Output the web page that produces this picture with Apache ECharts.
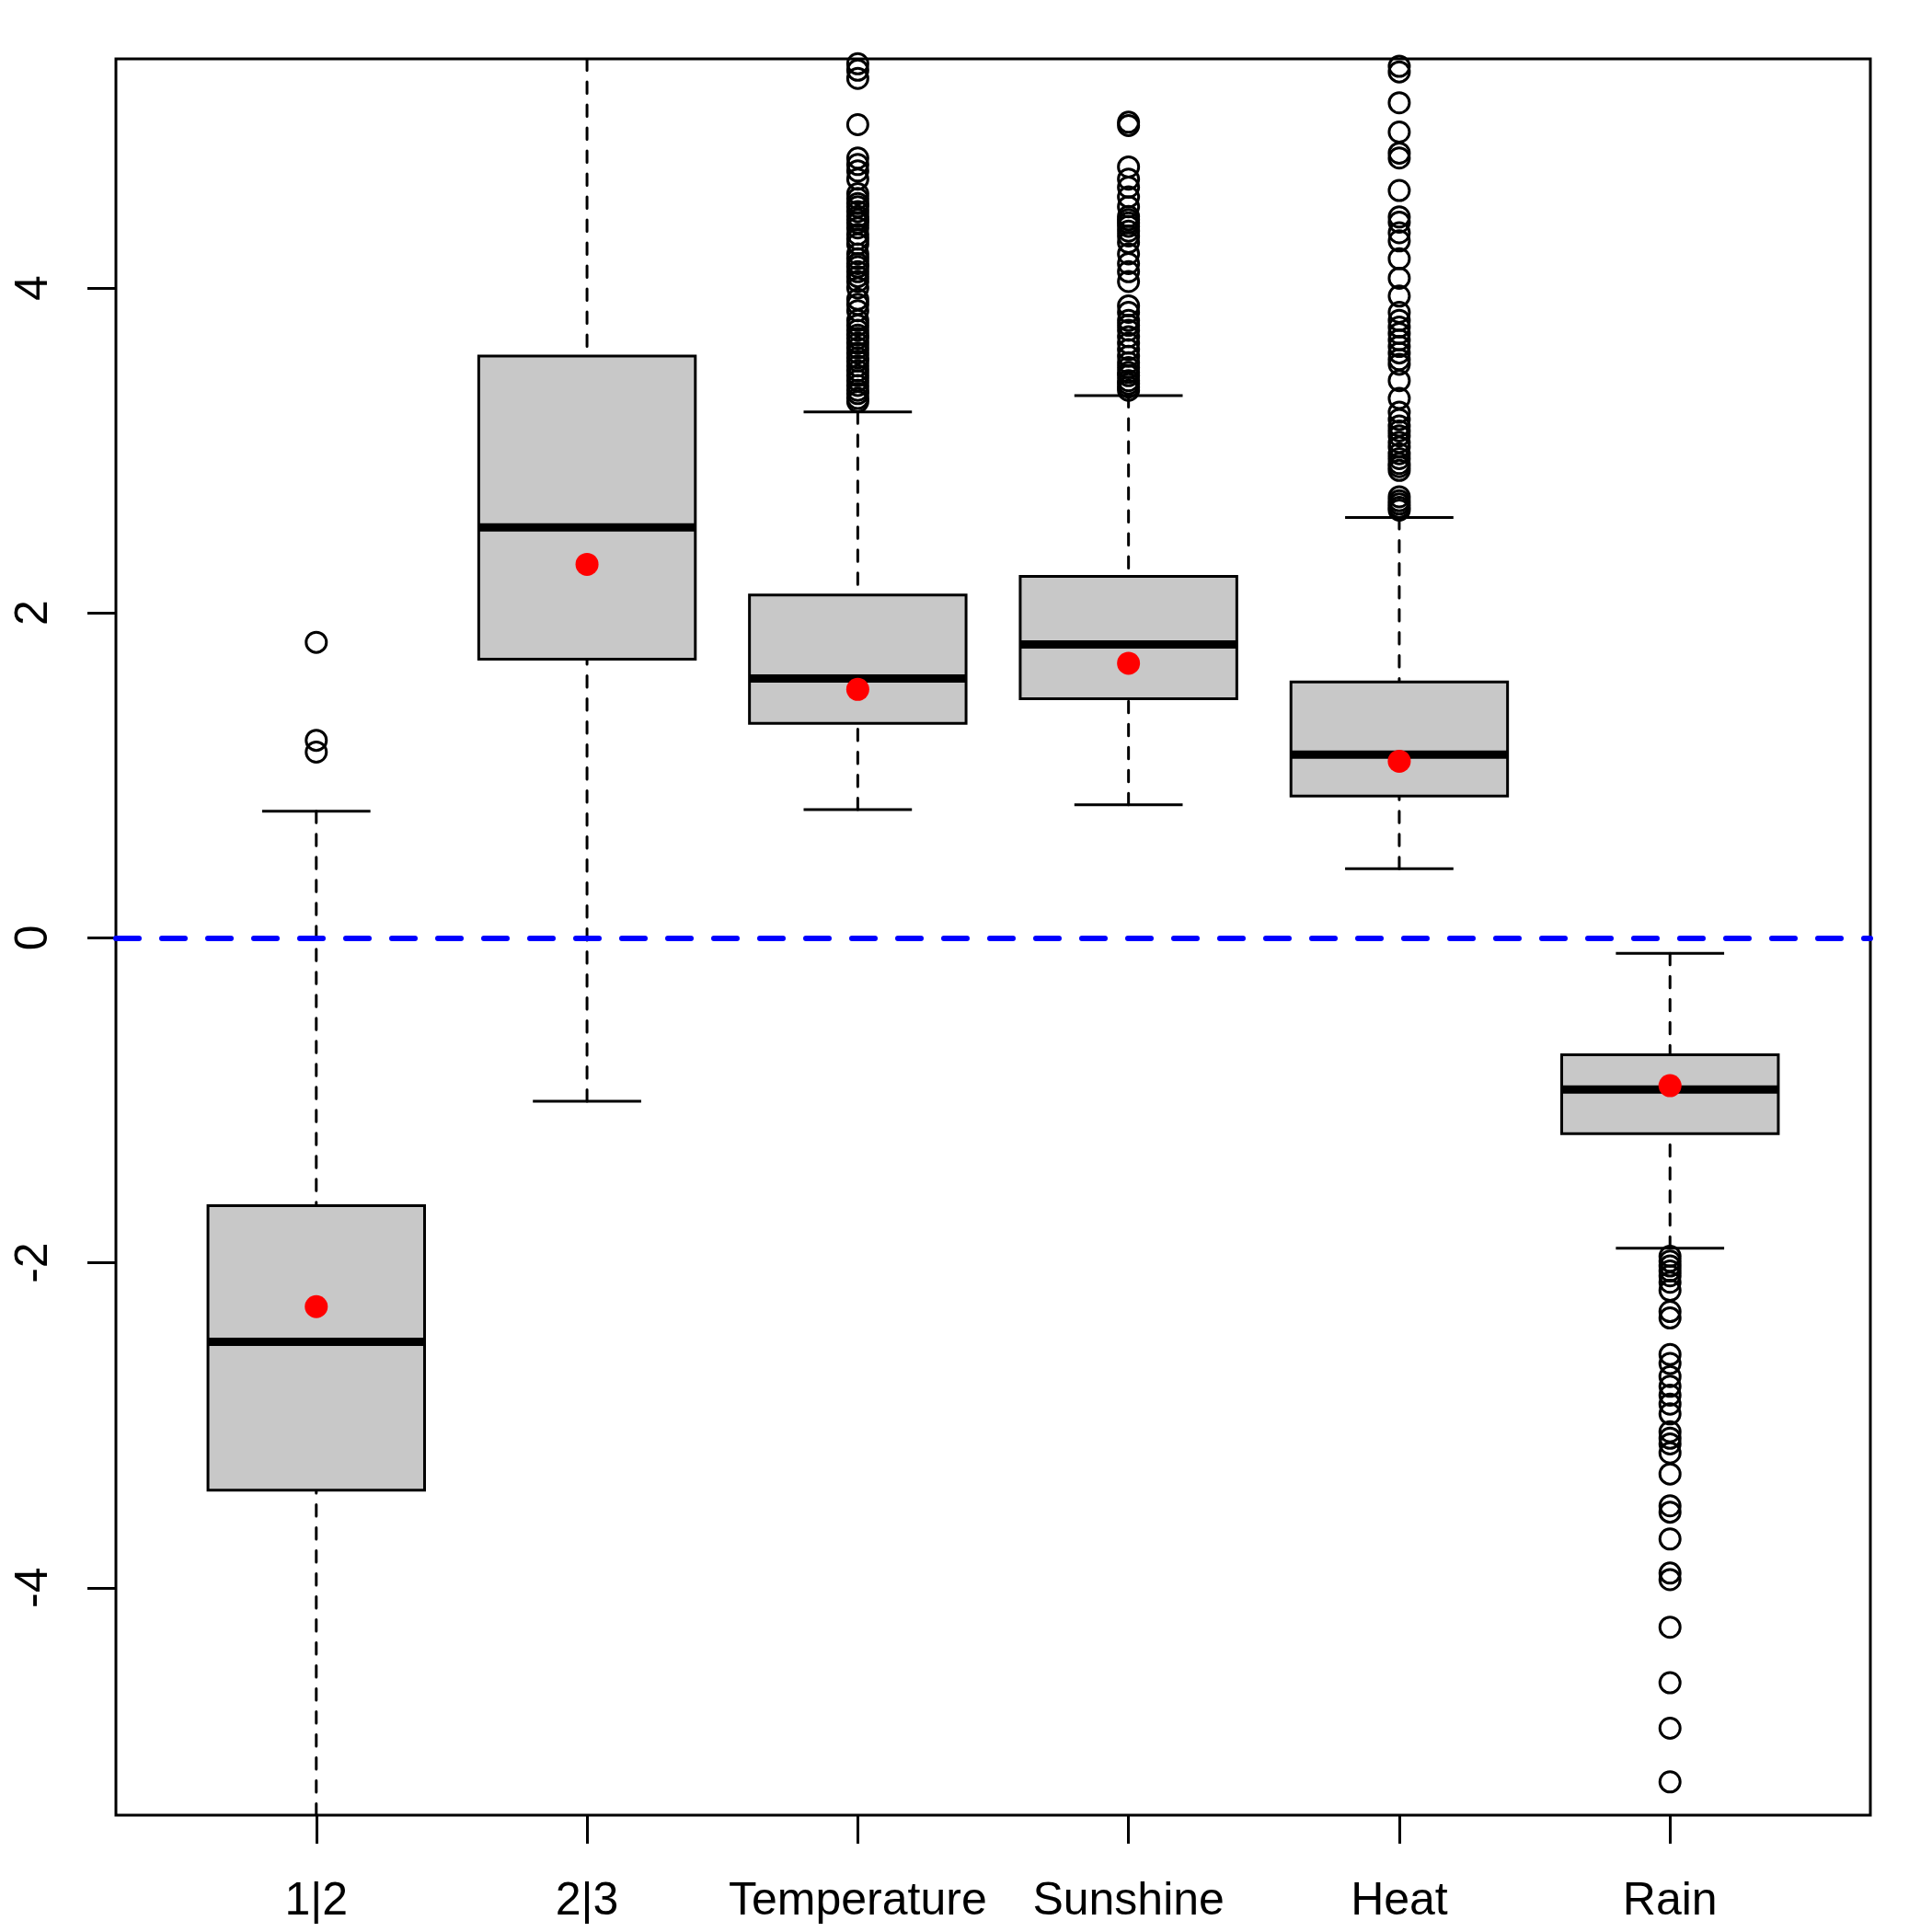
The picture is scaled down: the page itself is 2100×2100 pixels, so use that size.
<!DOCTYPE html>
<html><head><meta charset="utf-8">
<script src="https://cdn.jsdelivr.net/npm/echarts@6/dist/echarts.min.js"></script>
<style>html,body{margin:0;padding:0;background:#fff}#c{width:2100px;height:2100px}</style>
</head><body><div id="c"></div>
<script>
// ---- data ----
const categories = ['1|2', '2|3', 'Temperature', 'Sunshine', 'Heat', 'Rain'];
const whiskerLow  = [-6.0, -1.006, 0.789, 0.819, 0.425, -1.911];
const q1          = [-3.40, 1.715, 1.32, 1.472, 0.873, -1.206];
const median      = [-2.486, 2.527, 1.596, 1.806, 1.128, -0.933];
const q3          = [-1.648, 3.581, 2.11, 2.225, 1.575, -0.72];
const whiskerHigh = [0.779, 6.0, 3.237, 3.337, 2.587, -0.095];
const means       = [-2.27, 2.299, 1.529, 1.69, 1.087, -0.91];

const outliers12   = [1.819, 1.216, 1.143];
const outliers23   = [];
const outliersTemp = [5.38, 5.34, 5.29, 5.005, 4.80, 4.76, 4.72, 4.67, 4.58, 4.55, 4.52, 4.50, 4.47, 4.44, 4.42, 4.40, 4.37, 4.33, 4.30, 4.27, 4.21, 4.18, 4.15, 4.13, 4.10, 4.07, 4.04, 4.00, 3.93, 3.90, 3.86, 3.80, 3.77, 3.74, 3.71, 3.69, 3.66, 3.63, 3.60, 3.57, 3.55, 3.52, 3.49, 3.46, 3.43, 3.40, 3.37, 3.35, 3.32, 3.30];
const outliersSun  = [5.02, 5.00, 4.745, 4.67, 4.62, 4.56, 4.50, 4.44, 4.42, 4.40, 4.38, 4.35, 4.32, 4.28, 4.21, 4.15, 4.10, 4.04, 3.89, 3.85, 3.80, 3.77, 3.74, 3.70, 3.66, 3.62, 3.58, 3.54, 3.51, 3.48, 3.46, 3.43, 3.41, 3.39, 3.37];
const outliersHeat = [5.364, 5.33, 5.14, 4.96, 4.83, 4.80, 4.60, 4.437, 4.405, 4.34, 4.29, 4.18, 4.06, 3.95, 3.85, 3.80, 3.76, 3.72, 3.68, 3.64, 3.60, 3.56, 3.53, 3.43, 3.32, 3.235, 3.19, 3.15, 3.12, 3.09, 3.05, 3.02, 2.98, 2.95, 2.92, 2.90, 2.877, 2.715, 2.69, 2.67, 2.65, 2.633];
const outliersRain = [-1.96, -1.99, -2.02, -2.05, -2.08, -2.12, -2.17, -2.30, -2.34, -2.565, -2.62, -2.70, -2.76, -2.815, -2.87, -2.93, -3.04, -3.08, -3.115, -3.17, -3.30, -3.496, -3.535, -3.70, -3.91, -3.95, -4.243, -4.585, -4.865, -5.195];

const yTicks = [-4, -2, 0, 2, 4];
const refLineY = 0;

// ---- build ----
const outlierLists = [outliers12, outliers23, outliersTemp, outliersSun, outliersHeat, outliersRain];
const boxData = categories.map((c, i) => [i + 1, whiskerLow[i], q1[i], median[i], q3[i], whiskerHigh[i]]);
const outlierData = [];
outlierLists.forEach((arr, i) => arr.forEach(v => outlierData.push([i + 1, v])));
const meanData = means.map((m, i) => [i + 1, m]);
const xPositions = categories.map((c, i) => i + 1);

const FONT = '"Liberation Sans", Arial, Helvetica, sans-serif';
const BOX_HALF = 0.4, CAP_HALF = 0.2;

function renderBox(params, api) {
  const x = api.value(0);
  const cs = params.coordSys;
  const top = cs.y, bot = cs.y + cs.height;
  const inside = y => y >= top - 0.5 && y <= bot + 0.5;
  const clampY = y => Math.max(top, Math.min(bot, y));
  const yOf = v => api.coord([x, v])[1];
  const xOf = xv => api.coord([xv, 0])[0];
  const cx = xOf(x);
  const bl = xOf(x - BOX_HALF), br = xOf(x + BOX_HALF);
  const cl = xOf(x - CAP_HALF), cr = xOf(x + CAP_HALF);
  const yLow = yOf(api.value(1)), yQ1 = yOf(api.value(2)), yMed = yOf(api.value(3));
  const yQ3 = yOf(api.value(4)), yHigh = yOf(api.value(5));
  const thin = { stroke: '#000', lineWidth: 3 };
  const dash = { stroke: '#000', lineWidth: 3, lineDash: [12.5, 12.5], lineCap: 'round' };
  const children = [
    { type: 'line', shape: { x1: cx, y1: clampY(yHigh), x2: cx, y2: yQ3 }, style: dash },
    { type: 'line', shape: { x1: cx, y1: clampY(yLow), x2: cx, y2: yQ1 }, style: dash }
  ];
  if (inside(yHigh)) children.push({ type: 'line', shape: { x1: cl, y1: yHigh, x2: cr, y2: yHigh }, style: thin });
  if (inside(yLow)) children.push({ type: 'line', shape: { x1: cl, y1: yLow, x2: cr, y2: yLow }, style: thin });
  children.push({ type: 'rect', shape: { x: bl, y: yQ3, width: br - bl, height: yQ1 - yQ3 },
    style: { fill: '#C8C8C8', stroke: '#000', lineWidth: 3 } });
  children.push({ type: 'line', shape: { x1: bl, y1: yMed, x2: br, y2: yMed },
    style: { stroke: '#000', lineWidth: 9, lineCap: 'butt' } });
  return { type: 'group', children };
}

const chart = echarts.init(document.getElementById('c'), null, { renderer: 'canvas' });
chart.setOption({
  animation: false,
  backgroundColor: '#fff',
  grid: { left: 126, right: 67, top: 64, bottom: 127, show: true, borderColor: '#000', borderWidth: 3, backgroundColor: 'transparent' },
  xAxis: {
    type: 'value', min: 0.26, max: 6.74,
    axisLine: { show: false, onZero: false },
    splitLine: { show: false },
    axisTick: { show: true, customValues: xPositions, length: 31, lineStyle: { color: '#000', width: 3 } },
    axisLabel: { show: true, customValues: xPositions, margin: 69, fontSize: 50, fontFamily: FONT, color: '#000',
      formatter: v => categories[Math.round(v) - 1] }
  },
  yAxis: {
    type: 'value', min: -5.40, max: 5.41,
    axisLine: { show: false, onZero: false },
    splitLine: { show: false },
    axisTick: { show: true, customValues: yTicks, length: 31, lineStyle: { color: '#000', width: 3 } },
    axisLabel: { show: true, customValues: yTicks, rotate: 90, margin: 64, fontSize: 50, fontFamily: FONT, color: '#000',
      formatter: v => String(v) }
  },
  series: [
    {
      type: 'custom', name: 'box', renderItem: renderBox, data: boxData, z: 2,
      encode: { x: 0, y: [1, 2, 3, 4, 5] }, clip: true
    },
    {
      type: 'scatter', name: 'outliers', data: outlierData, symbol: 'circle', symbolSize: 22, z: 3,
      itemStyle: { color: 'rgba(0,0,0,0)', borderColor: '#000', borderWidth: 3, opacity: 1 }, clip: false
    },
    {
      type: 'line', name: 'ref', data: [], z: 5,
      markLine: {
        silent: true, symbol: ['none', 'none'], animation: false,
        label: { show: false },
        lineStyle: { color: '#0000FF', width: 6, type: [25, 25], cap: 'round', opacity: 1 },
        emphasis: { disabled: true },
        data: [{ yAxis: refLineY }]
      }
    },
    {
      type: 'scatter', name: 'mean', data: meanData, symbol: 'circle', symbolSize: 25, z: 6,
      itemStyle: { color: '#FF0000', opacity: 1 }
    }
  ]
});
</script>
</body></html>
